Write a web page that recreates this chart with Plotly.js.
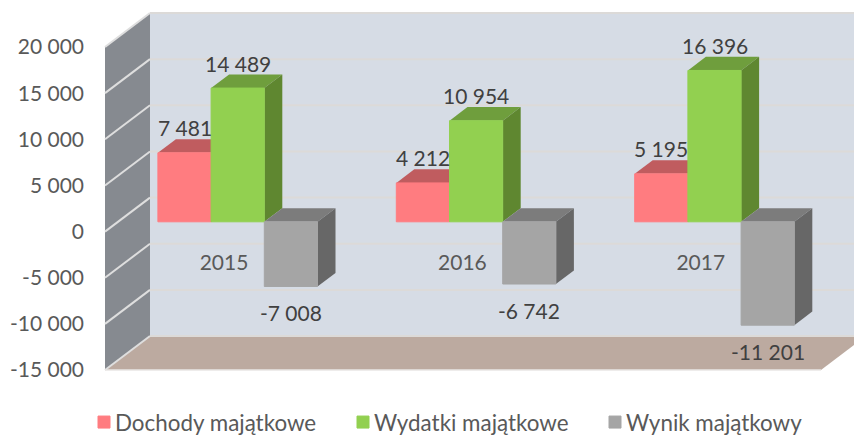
<!DOCTYPE html>
<html><head><meta charset="utf-8">
<script src="https://cdn.plot.ly/plotly-3.0.1.min.js"></script>
<style>html,body{margin:0;padding:0;background:#fff}</style></head>
<body><div id="chart" style="width:854px;height:436px"></div>
<script>
const categories = ['2015','2016','2017'];
const catPositions = [0,1,2];
const seriesNames = ['Dochody majątkowe','Wydatki majątkowe','Wynik majątkowy'];
const dochody = [7481,4212,5195];
const wydatki = [14489,10954,16396];
const wynik = [-7008,-6742,-11201];
const tickValues = [20000,15000,10000,5000,0,-5000,-10000,-15000];
const tickLabels = ['20 000','15 000','10 000','5 000','0','-5 000','-10 000','-15 000'];
const frontColors = ['#ff7c80','#92d050','#a5a5a5'];
const topColors = ['#c05c5f','#6f9e3d','#7c7c7c'];
const sideColors = ['#a85052','#5f8730','#676767'];
const labelFor = v => (v<0?'-':'') + String(Math.abs(v)).replace(/\B(?=(\d{3})+$)/g,' ');

const W=854,H=436;
const pxPerCat=238.4, pxPerK=9.23;
const xRange=[-237.7/pxPerCat,(W-237.7)/pxPerCat];
const yRange=[-(H-221.8)/pxPerK*1000,221.8/pxPerK*1000];
const y2Range=[-(H-231.6)/pxPerK*1000,231.6/pxPerK*1000];
const barW=53.2/pxPerCat;
const depthX=18/pxPerCat, depthY=13.6/pxPerK*1000;
const frontX=(105-237.7)/pxPerCat, backX=(150-237.7)/pxPerCat;
const frontOff=-(231.6-221.8)/pxPerK*1000, backOff=(221.8-197.6)/pxPerK*1000;
const vMin=-15000,vMax=20000;

const shapes=[];
const poly=(pts,fill,line,lw)=>shapes.push({type:'path',xref:'x',yref:'y',layer:'below',
  path:'M'+pts.map(p=>p[0]+','+p[1]).join('L')+'Z',fillcolor:fill,line:{width:lw||0,color:line||fill}});
const seg=(a,b,color,w)=>shapes.push({type:'line',xref:'x',yref:'y',layer:'below',x0:a[0],y0:a[1],x1:b[0],y1:b[1],line:{color:color,width:w}});

// walls and floor
poly([[backX,vMin+backOff],[backX,vMax+backOff],[xRange[1]+1,vMax+backOff],[xRange[1]+1,vMin+backOff]],'#d6dce5');
poly([[frontX,vMin+frontOff],[frontX,vMax+frontOff],[backX,vMax+backOff],[backX,vMin+backOff]],'#868a90');
const floorEnd=(821-237.7)/pxPerCat;
poly([[frontX,vMin+frontOff],[backX,vMin+backOff],[floorEnd+(backX-frontX),vMin+backOff],[floorEnd,vMin+frontOff]],'#bcaaa0');
tickValues.forEach(v=>{
  seg([backX,v+backOff],[xRange[1]+1,v+backOff],'#dcdad8',2);
  seg([frontX,v+frontOff],[backX,v+backOff],'#dedede',2);
});
seg([frontX,vMin+frontOff],[floorEnd,vMin+frontOff],'#e8e6e4',1.5);

// bar depth faces
[dochody,wydatki,wynik].forEach((vals,s)=>{
  vals.forEach((v,i)=>{
    const x0=catPositions[i]+(s-1.5)*barW, x1=x0+barW, t=Math.max(v,0), b=Math.min(v,0);
    poly([[x0,t],[x0+depthX,t+depthY],[x1+depthX,t+depthY],[x1,t]],topColors[s]);
    poly([[x1,t],[x1+depthX,t+depthY],[x1+depthX,b+depthY],[x1,b]],sideColors[s]);
  });
});

const bar=(vals,s)=>({type:'bar',name:seriesNames[s],x:catPositions,y:vals,
  marker:{color:frontColors[s],line:{color:frontColors[s],width:1}},hoverinfo:'y'});
const traces=[bar(dochody,0),bar(wydatki,1),bar(wynik,2),
 {type:'scatter',mode:'markers',x:catPositions,y:[0,0,0],xaxis:'x2',yaxis:'y2',showlegend:false,
  marker:{opacity:0},hoverinfo:'skip'}];

const annotations=[];
[dochody,wydatki,wynik].forEach((vals,s)=>vals.forEach((v,i)=>annotations.push({
  x:catPositions[i]+(s-1)*barW,y:v,xref:'x',yref:'y',text:labelFor(v),showarrow:false,
  yanchor:'middle',xanchor:'center',yshift:v<0?-26:25,font:{family:'Lato',size:21,color:'#404040'}})));

const catShift=(237.7-224)/pxPerCat;
const layout={width:W,height:H,margin:{l:0,r:0,t:0,b:0,autoexpand:false},paper_bgcolor:'#fff',plot_bgcolor:'#fff',
 barmode:'group',bargap:1-3*barW,bargroupgap:0,shapes,annotations,
 font:{family:'Lato',size:21,color:'#595959'},
 xaxis:{range:xRange,visible:false,fixedrange:true},
 yaxis:{range:yRange,visible:false,fixedrange:true},
 xaxis2:{range:[xRange[0]+catShift,xRange[1]+catShift],overlaying:'x',anchor:'free',position:1-248/H,
   tickmode:'array',tickvals:catPositions,ticktext:categories,showgrid:false,zeroline:false,showline:false,ticks:'',
   tickfont:{family:'Lato',size:21,color:'#595959'},fixedrange:true},
 yaxis2:{range:y2Range,overlaying:'y',anchor:'free',position:105/W,
   tickmode:'array',tickvals:tickValues,ticktext:tickLabels,showgrid:false,zeroline:false,showline:false,ticks:'',
   ticklabelstandoff:21,tickfont:{family:'Lato',size:21,color:'#595959'},fixedrange:true},
 legend:{orientation:'h',x:75/W,y:(H-401)/H,xanchor:'left',yanchor:'top',entrywidth:210.5,entrywidthmode:'pixels',
   font:{family:'Lato',size:22.4,color:'#595959'},bgcolor:'rgba(0,0,0,0)',itemclick:false,itemdoubleclick:false},
 showlegend:true};
Plotly.newPlot('chart',traces,layout,{displayModeBar:false,responsive:false}).then(()=>{
  // tighten the swatch-to-text gap in the legend and even out the entry spacing
  document.querySelectorAll('.legend .legendsymbols').forEach(g=>g.setAttribute('transform','translate(9,0)'));
  const entry=document.querySelectorAll('.legend .traces')[1];
  if(entry){
    const m=/translate\(([-\d.]+),\s*([-\d.]+)\)/.exec(entry.getAttribute('transform')||'');
    if(m) entry.setAttribute('transform','translate('+(parseFloat(m[1])+3.5)+','+m[2]+')');
  }
});
</script></body></html>
